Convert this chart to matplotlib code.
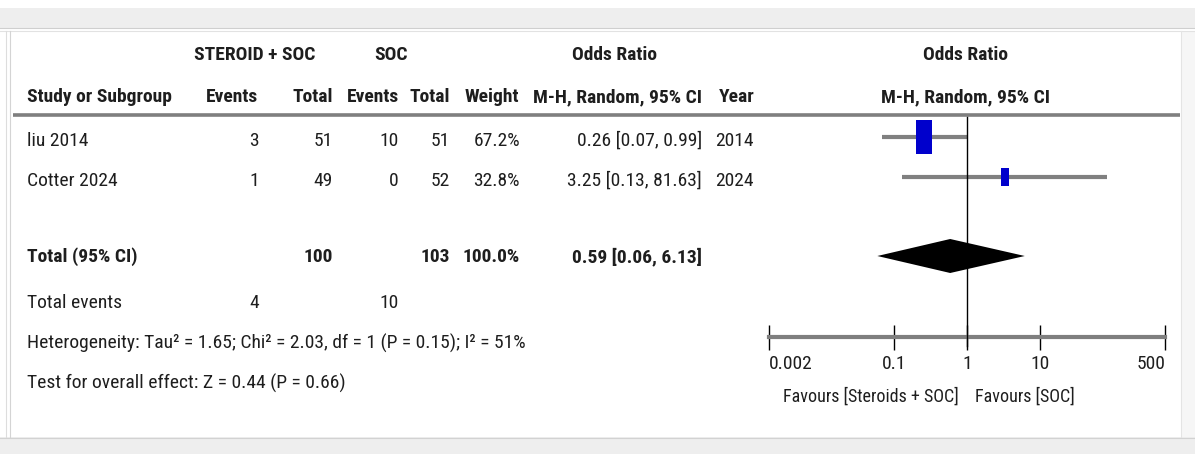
import matplotlib.pyplot as plt
from matplotlib import font_manager
from matplotlib.ticker import NullLocator
from matplotlib.patches import Rectangle

# narrow face if one is installed, the table is quite tight
installed = {f.name for f in font_manager.fontManager.ttflist}
FONT = next((n for n in ['Liberation Sans Narrow', 'DejaVu Sans Condensed',
                         'Roboto Condensed', 'Open Sans Condensed']
             if n in installed), 'Liberation Sans')
plt.rcParams['font.family'] = [FONT, 'DejaVu Sans']

# study data
studies = ['liu 2014', 'Cotter 2024']
steroid_events = [3, 1]
steroid_total = [51, 49]
soc_events = [10, 0]
soc_total = [51, 52]
weights = [67.2, 32.8]
odds = [0.26, 3.25]
ci_low = [0.07, 0.13]
ci_high = [0.99, 81.63]
years = [2014, 2024]

# pooled result
pooled_or = 0.59
pooled_low = 0.06
pooled_high = 6.13
pooled_weight = 100.0
total_steroid = 100
total_soc = 103
events_steroid = 4
events_soc = 10
heterogeneity = 'Heterogeneity: Tau² = 1.65; Chi² = 2.03, df = 1 (P = 0.15); I² = 51%'
overall = 'Test for overall effect: Z = 0.44 (P = 0.66)'

axis_ticks = [0.002, 0.1, 1, 10, 500]
axis_labels = ['0.002', '0.1', '1', '10', '500']

FS = 14
TXT = '#1e1e1e'
W, H = 1195, 454

fig = plt.figure(figsize=(W / 100, H / 100), dpi=100)
fig.patch.set_facecolor('white')

# background axes in pixel units for the table part
bg = fig.add_axes([0, 0, 1, 1])
bg.set_xlim(0, W)
bg.set_ylim(H, 0)
bg.axis('off')

# window frame around the panel
bg.add_patch(Rectangle((0, 8), W, 20, color='#eeeeee', lw=0))
bg.plot([0, W], [27.5, 27.5], color='#cfcfcf', lw=0.8)
bg.plot([0, W], [31, 31], color='#e2e2e2', lw=0.8)
bg.add_patch(Rectangle((1181, 31), W - 1181, 406, color='#f6f6f6', lw=0))
bg.plot([1181, 1181], [31, 437], color='#e4e4e4', lw=0.8)
bg.add_patch(Rectangle((0, 437), W, H - 437, color='#eeeeee', lw=0))
bg.plot([0, W], [437.5, 437.5], color='#d2d2d2', lw=0.8)
bg.plot([6, 6], [31, 437], color='#dddddd', lw=0.8)
bg.plot([10, 10], [31, 437], color='#d4d4d4', lw=0.8)


def cell(x, y, s, ha='right', bold=False, size=FS):
    bg.text(x, y, s, ha=ha, va='center', fontsize=size, color=TXT,
            fontweight='bold' if bold else 'normal')


# header
cell(255, 55, 'STEROID + SOC', ha='center', bold=True)
cell(391, 55, 'SOC', ha='center', bold=True)
cell(615, 55, 'Odds Ratio', ha='center', bold=True)
cell(966, 55, 'Odds Ratio', ha='center', bold=True)
cell(27, 97, 'Study or Subgroup', ha='left', bold=True)
cell(258, 97, 'Events', bold=True)
cell(333, 97, 'Total', bold=True)
cell(399, 97, 'Events', bold=True)
cell(450, 97, 'Total', bold=True)
cell(519, 97, 'Weight', bold=True)
cell(702, 97, 'M-H, Random, 95% CI', bold=True)
cell(755, 97, 'Year', bold=True)
cell(966, 97, 'M-H, Random, 95% CI', ha='center', bold=True)
bg.plot([13, 1180], [115, 115], color='#7f7f7f', lw=2.6, solid_capstyle='butt')

# study rows
row_y = [141, 181]
for i, y in enumerate(row_y):
    cell(27, y, studies[i], ha='left')
    cell(259, y, str(steroid_events[i]))
    cell(333, y, str(steroid_total[i]))
    cell(399, y, str(soc_events[i]))
    cell(450, y, str(soc_total[i]))
    cell(520, y, f'{weights[i]:.1f}%')
    cell(702, y, f'{odds[i]:.2f} [{ci_low[i]:.2f}, {ci_high[i]:.2f}]')
    cell(754, y, str(years[i]))

# totals
cell(27, 257, 'Total (95% CI)', ha='left', bold=True)
cell(333, 257, str(total_steroid), bold=True)
cell(450, 257, str(total_soc), bold=True)
cell(520, 257, f'{pooled_weight:.1f}%', bold=True)
cell(702, 257, f'{pooled_or:.2f} [{pooled_low:.2f}, {pooled_high:.2f}]', bold=True)
cell(27, 303, 'Total events', ha='left')
cell(259, 303, str(events_steroid))
cell(399, 303, str(events_soc))
cell(27, 343, heterogeneity, ha='left')
cell(27, 383, overall, ha='left')

# forest plot on a log odds-ratio axis
fp = fig.add_axes([769 / W, 0, 396 / W, 1])
fp.set_xscale('log')
fp.set_xlim(axis_ticks[0], axis_ticks[-1])
fp.set_ylim(H, 0)
fp.patch.set_alpha(0)
for side in ['top', 'left', 'right']:
    fp.spines[side].set_visible(False)
fp.spines['bottom'].set_position(('data', 337))
fp.spines['bottom'].set_color('#7f7f7f')
fp.spines['bottom'].set_linewidth(3)
fp.set_yticks([])
fp.set_xticks(axis_ticks)
fp.set_xticklabels(axis_labels)
fp.xaxis.set_minor_locator(NullLocator())
fp.tick_params(axis='x', direction='inout', length=18, width=1, color='black',
               pad=4, labelsize=FS, labelcolor=TXT)
# end labels sit inside the axis ends
tick_text = fp.get_xticklabels()
tick_text[0].set_ha('left')
tick_text[-1].set_ha('right')

fp.plot([1, 1], [117, 346], color='black', lw=1, zorder=3)

mark_y = [137, 177]
box = [(-0.23, -0.5), (0.23, -0.5), (0.23, 0.5), (-0.23, 0.5), (-0.23, -0.5)]
for i, y in enumerate(mark_y):
    fp.plot([ci_low[i], ci_high[i]], [y, y], color='#808080', lw=3,
            solid_capstyle='butt', zorder=2)
    size = 24 * (weights[i] / max(weights)) ** 0.85
    fp.plot(odds[i], y, marker=box, markersize=size, color='#0000cc',
            markeredgewidth=0, zorder=4)

fp.fill([pooled_low, pooled_or, pooled_high, pooled_or],
        [256, 239, 256, 273], color='black', lw=0, zorder=4)

cell(959, 397, 'Favours [Steroids + SOC]', size=13)
cell(975, 397, 'Favours [SOC]', ha='left', size=13)

fig.savefig('out.png', dpi=100)
